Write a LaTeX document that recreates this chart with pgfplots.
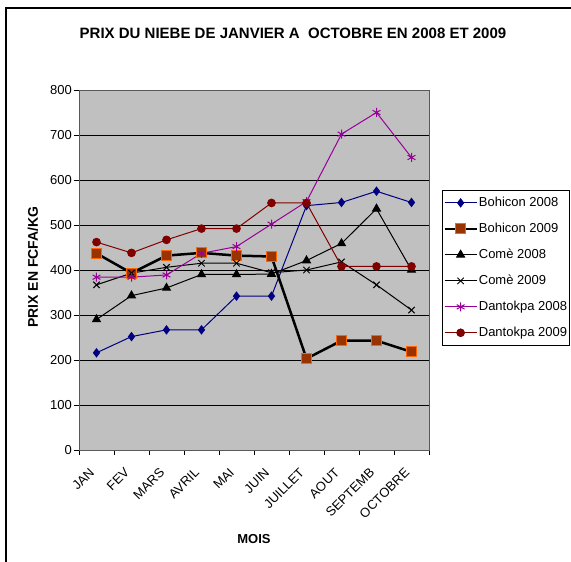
\documentclass[border=0pt]{standalone}
\usepackage{fontspec}
\setmainfont{Liberation Sans}
\usepackage{pgfplots}
\pgfplotsset{compat=1.18}
\definecolor{plotbg}{RGB}{192,192,192}
\definecolor{bnavy}{RGB}{0,0,128}
\definecolor{sqfill}{RGB}{153,51,0}
\definecolor{sqedge}{RGB}{255,102,0}
\definecolor{dpurple}{RGB}{153,0,153}
\definecolor{dred}{RGB}{128,0,0}
\newcommand{\fs}{\fontsize{13}{15}\selectfont}
\begin{document}
\begin{tikzpicture}[x=1pt,y=1pt]
\useasboundingbox (0,0) rectangle (571,562);
\draw[black, line width=1.2pt] (6,-5) -- (6,554) -- (580,554);
\begin{axis}[
  at={(79pt,112pt)}, anchor=south west,
  scale only axis, width=350pt, height=360pt,
  xmin=0.5, xmax=10.5, ymin=0, ymax=800,
  axis background/.style={fill=plotbg},
  ytick={0,100,...,800},
  ymajorgrids, grid style={black, line width=0.7pt},
  xtick={1,...,10},
  xticklabels={JAN,FEV,MARS,AVRIL,MAI,JUIN,JUILLET,AOUT,SEPTEMB,OCTOBRE},
  major x tick style={draw=none},
  minor xtick={0.5,1.5,...,10.5},
  xtick pos=bottom, ytick pos=left,
  tick align=outside, major tick length=5pt, minor tick length=5pt,
  tick style={black, line width=0.8pt},
  xticklabel style={rotate=45, anchor=north east, font=\fs, inner sep=1pt, xshift=-13pt, yshift=-2pt},
  yticklabel style={font=\fs, inner sep=2pt},
  /pgf/number format/assume math mode=true,
  axis line style={draw=gray!70!black, line width=0.8pt},
  legend cell align=left,
  legend style={at={(1.0371,0.7222)}, anchor=north west, draw=black, line width=0.8pt,
    font=\fs, row sep=13pt, inner xsep=1pt, inner ysep=6pt, nodes={inner sep=1pt},
    fill=white},
  legend image code/.code={\draw[mark repeat=2,mark phase=2] plot coordinates {(0pt,0pt) (16pt,0pt) (32pt,0pt)};},
]
\addplot[bnavy, line width=1pt, mark=diamond*, mark size=4pt, mark options={fill=bnavy}]
  coordinates {(1,216) (2,252) (3,267) (4,267) (5,342) (6,342) (7,543) (8,550) (9,575) (10,550)};
\addlegendentry{Bohicon 2008}
\addplot[black, line width=2.5pt, mark=square*, mark size=5pt, mark options={fill=sqfill, draw=sqedge, line width=1.2pt}]
  coordinates {(1,437) (2,393) (3,432) (4,438) (5,432) (6,430) (7,203) (8,243) (9,243) (10,218)};
\addlegendentry{Bohicon 2009}
\addplot[black, line width=1pt, mark=triangle*, mark size=4.5pt, mark options={fill=black}]
  coordinates {(1,290) (2,343) (3,360) (4,390) (5,390) (6,391) (7,421) (8,459) (9,536) (10,400)};
\addlegendentry{Comè 2008}
\addplot[black, line width=1pt, mark=x, mark size=4.5pt]
  coordinates {(1,367) (2,393) (3,406) (4,415) (5,415) (6,394) (7,400) (8,418) (9,367) (10,311)};
\addlegendentry{Comè 2009}
\addplot[dpurple, line width=1pt, mark=asterisk, mark size=4.5pt]
  coordinates {(1,384) (2,384) (3,389) (4,437) (5,452) (6,502) (7,552) (8,702) (9,750) (10,650)};
\addlegendentry{Dantokpa 2008}
\addplot[dred, line width=1pt, mark=*, mark size=3.8pt, mark options={fill=dred}]
  coordinates {(1,462) (2,438) (3,467) (4,492) (5,492) (6,549) (7,549) (8,408) (9,408) (10,408)};
\addlegendentry{Dantokpa 2009}
\end{axis}
\node[font=\bfseries\fontsize{15}{17}\selectfont] at (293,529) {PRIX DU NIEBE DE JANVIER A\ \ OCTOBRE EN 2008 ET 2009};
\node[font=\bfseries\fs] at (254,23) {MOIS};
\node[font=\bfseries\fontsize{14}{16}\selectfont, rotate=90] at (33,295) {PRIX EN FCFA/KG};
\end{tikzpicture}
\end{document}
